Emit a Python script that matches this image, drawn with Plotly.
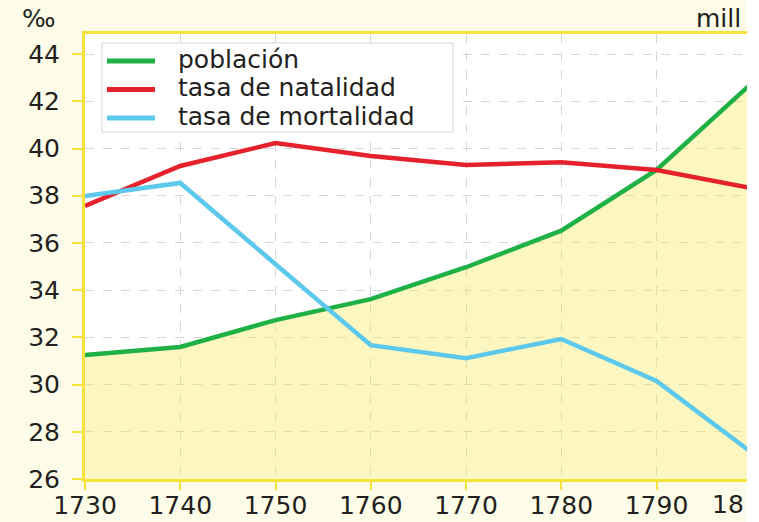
import plotly.graph_objects as go

years = [1730, 1740, 1750, 1760, 1770, 1780, 1790, 1800]
poblacion = [31.25, 31.59, 32.73, 33.62, 34.97, 36.52, 39.09, 42.77]
natalidad = [37.57, 39.26, 40.23, 39.68, 39.30, 39.42, 39.09, 38.32]
mortalidad = [37.99, 38.54, 35.10, 31.67, 31.12, 31.93, 30.15, 27.12]
y_ticks = [26, 28, 30, 32, 34, 36, 38, 40, 42, 44]
x_ticks = [1730, 1740, 1750, 1760, 1770, 1780, 1790]
series_names = ["población", "tasa de natalidad", "tasa de mortalidad"]
series_colors = ["#1fb146", "#e5222b", "#5cc8ec"]

FONT = "DejaVu Sans"
INK = "#231f20"
YELLOW = "#f6e23a"

fig = go.Figure()
for name, vals, col in zip(series_names, [poblacion, natalidad, mortalidad], series_colors):
    extra = {}
    if name == "población":
        extra = dict(fill="tozeroy", fillcolor="rgba(248,236,100,0.40)")
    fig.add_trace(go.Scatter(x=years, y=vals, name=name, mode="lines",
                             line=dict(color=col, width=4.5), **extra))

# legend drawn as a boxed key (paper coordinates)
shapes = [dict(type="rect", xref="paper", yref="paper",
               x0=0.0257, x1=0.5559, y0=0.7798, y1=0.9798,
               fillcolor="#ffffff", line=dict(color="#d6d6d6", width=1),
               layer="above")]
annotations = []
row_y = [0.9393, 0.8753, 0.8112]
for name, col, yy in zip(series_names, series_colors, row_y):
    shapes.append(dict(type="line", xref="paper", yref="paper",
                       x0=0.0332, x1=0.1057, y0=yy, y1=yy,
                       line=dict(color=col, width=5), layer="above"))
    annotations.append(dict(text=name, xref="paper", yref="paper",
                            x=0.1390, y=yy + 0.0045, xanchor="left", yanchor="middle",
                            borderpad=0,
                            showarrow=False, font=dict(family=FONT, size=25, color=INK)))

annotations += [
    dict(text="‰", xref="paper", yref="paper", x=-0.0695, y=1.034,
         xanchor="center", yanchor="middle", showarrow=False,
         font=dict(family=FONT, size=25, color=INK)),
    dict(text="mill", xref="paper", yref="paper", x=0.9200, y=1.034,
         xanchor="left", yanchor="middle", showarrow=False,
         font=dict(family=FONT, size=25, color=INK)),
    dict(text="18", xref="paper", yref="paper", x=0.997, y=-0.058,
         xanchor="right", yanchor="middle", showarrow=False, borderpad=0,
         font=dict(family=FONT, size=25, color=INK)),
]

fig.update_layout(
    width=747, height=522,
    margin=dict(l=85, r=0, t=34, b=43, autoexpand=False),
    paper_bgcolor="#fdfce8",
    plot_bgcolor="#ffffff",
    font=dict(family=FONT, size=25, color=INK),
    showlegend=False,
    xaxis=dict(
        range=[1730, 1799.5], tickvals=x_ticks, automargin=False,
        showline=True, linecolor=YELLOW, linewidth=3, mirror=True,
        ticks="outside", ticklen=8, tickwidth=2, tickcolor=YELLOW,
        showgrid=True, gridcolor="#d6d6d6", gridwidth=1, griddash="dash",
        zeroline=False, ticklabelstandoff=-6,
    ),
    yaxis=dict(
        range=[26, 44.85], tickvals=y_ticks, automargin=False,
        showline=True, linecolor=YELLOW, linewidth=3,
        ticks="outside", ticklen=10, tickwidth=2, tickcolor=YELLOW,
        showgrid=True, gridcolor="#d6d6d6", gridwidth=1, griddash="dash",
        zeroline=False, ticklabelstandoff=7,
    ),
    shapes=shapes,
    annotations=annotations,
)

fig.write_html("out.html", config={"displayModeBar": False},
               post_script="document.body.style.margin='0';")
